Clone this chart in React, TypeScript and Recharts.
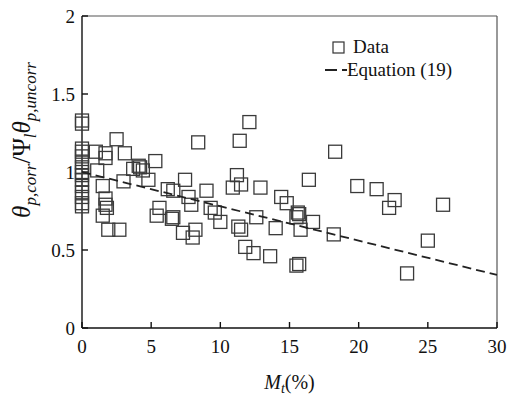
import { ScatterChart, Scatter, XAxis, YAxis, ReferenceLine } from 'recharts'

// M_t (%) of each data point
const mtValues = [
  0, 0, 0, 0, 0, 0, 0, 0, 0, 0, 0, 0, 0, 0, 0,
  1.0, 1.7, 1.7, 2.5, 3.1, 1.1, 1.5, 1.7, 1.8, 1.7, 1.5, 1.9, 2.7, 3.0, 3.7,
  4.1, 4.2, 4.4, 4.8, 5.3, 5.4, 5.6, 6.2, 6.6, 6.5, 6.6, 7.3, 7.45, 7.7, 7.9,
  8.0, 8.2, 8.4, 9.0, 9.3, 9.6, 10.0, 10.9, 11.2, 11.5, 11.4, 11.3, 11.5, 11.8, 12.1,
  12.4, 12.6, 12.9, 13.6, 14.0, 14.4, 14.8, 15.5, 15.6, 15.7, 15.8, 15.5, 15.7, 16.4, 16.7,
  18.2, 18.3, 19.9, 21.3, 22.2, 22.6, 23.5, 25.0, 26.1,
]

// corrected / uncorrected ratio of each data point
const ratioValues = [
  1.33, 1.31, 1.15, 1.13, 1.1, 1.06, 1.03, 1.0, 0.98, 0.95, 0.91, 0.87, 0.84, 0.8, 0.78,
  1.13, 1.12, 1.09, 1.21, 1.12, 1.01, 0.91, 0.83, 0.77, 0.79, 0.72, 0.63, 0.63, 0.94, 1.02,
  1.04, 1.03, 1.01, 0.95, 1.07, 0.72, 0.77, 0.89, 0.88, 0.7, 0.71, 0.61, 0.95, 0.84, 0.79,
  0.58, 0.63, 1.19, 0.88, 0.77, 0.74, 0.68, 0.9, 0.98, 0.92, 1.2, 0.65, 0.63, 0.52, 1.32,
  0.48, 0.71, 0.9, 0.46, 0.64, 0.84, 0.8, 0.71, 0.74, 0.73, 0.63, 0.4, 0.41, 0.95, 0.68,
  0.6, 1.13, 0.91, 0.89, 0.77, 0.82, 0.35, 0.56, 0.79,
]

// Equation (19)
const eqX = [0, 30]
const eqY = [1.0, 0.34]

const xTicks = [0, 5, 10, 15, 20, 25, 30]
const yTicks = [0, 0.5, 1, 1.5, 2]

const points = mtValues.map((x, i) => ({ x, y: ratioValues[i] }))
const eqLine = eqX.map((x, i) => ({ x, y: eqY[i] }))

const FONT = '"Liberation Serif", "Times New Roman", serif'

function Square(props: any) {
  const { cx, cy } = props
  if (cx == null || cy == null) return null
  return <rect x={cx - 6.5} y={cy - 6.5} width={13} height={13} fill="none" stroke="#3a3a3a" strokeWidth={1.3} />
}

function LegendBox() {
  return (
    <div style={{ position: 'absolute', left: 325, top: 35, fontFamily: FONT, fontSize: 19, color: '#111', lineHeight: '23px' }}>
      <div style={{ display: 'flex', alignItems: 'center' }}>
        <svg width={28} height={14}>
          <rect x={8} y={2} width={11} height={11} fill="none" stroke="#333" strokeWidth={1.2} />
        </svg>
        <span>Data</span>
      </div>
      <div style={{ display: 'flex', alignItems: 'center' }}>
        <svg width={22} height={14}>
          <line x1={0} y1={7} x2={22} y2={7} stroke="#222" strokeWidth={2} strokeDasharray="12 5" />
        </svg>
        <span>Equation (19)</span>
      </div>
    </div>
  )
}

export default function App() {
  return (
    <div style={{ position: 'absolute', left: 0, top: 0, width: 509, height: 400, background: '#fff' }}>
      <ScatterChart width={509} height={400} margin={{ top: 16, right: 12, bottom: 0, left: 0 }}>
        <XAxis
          type="number"
          dataKey="x"
          domain={[0, 30]}
          ticks={xTicks}
          tickSize={-6}
          tickMargin={18}
          height={72}
          stroke="#111"
          strokeWidth={1.4}
          tick={{ fill: '#111', fontSize: 19, fontFamily: FONT }}
          label={(p: any) => {
            const vb = p.viewBox
            const cx = vb.x + vb.width / 2
            return (
              <text x={cx} y={389} textAnchor="middle" fontFamily={FONT} fontSize={20} fill="#111">
                <tspan fontStyle="italic">M</tspan>
                <tspan fontStyle="italic" fontSize={14} dy={4}>t</tspan>
                <tspan dy={-4}>(%)</tspan>
              </text>
            )
          }}
        />
        <YAxis
          type="number"
          dataKey="y"
          domain={[0, 2]}
          ticks={yTicks}
          tickSize={-6}
          tickMargin={13}
          width={82}
          stroke="#111"
          strokeWidth={1.4}
          tick={{ fill: '#111', fontSize: 19, fontFamily: FONT }}
          label={() => (
            <text
              x={30}
              y={140}
              transform="rotate(-90, 30, 140)"
              textAnchor="middle"
              fontFamily={FONT}
              fontSize={25}
              fill="#111"
            >
              <tspan fontStyle="italic">θ</tspan>
              <tspan fontStyle="italic" fontSize={17} dy={6}>p,corr</tspan>
              <tspan dy={-6}>/Ψ</tspan>
              <tspan fontStyle="italic" fontSize={17} dy={6}>l</tspan>
              <tspan fontStyle="italic" dy={-6}>θ</tspan>
              <tspan fontStyle="italic" fontSize={17} dy={6}>p,uncorr</tspan>
            </text>
          )}
        />
        <ReferenceLine y={2} stroke="#555" strokeWidth={1.2} />
        <ReferenceLine x={30} stroke="#555" strokeWidth={1.2} />
        <Scatter name="Data" data={points} shape={<Square />} isAnimationActive={false} />
        <Scatter
          name="Equation (19)"
          data={eqLine}
          line={{ stroke: '#222', strokeWidth: 1.8, strokeDasharray: '9 5' }}
          shape={() => null}
          isAnimationActive={false}
        />
      </ScatterChart>
      <LegendBox />
    </div>
  )
}
